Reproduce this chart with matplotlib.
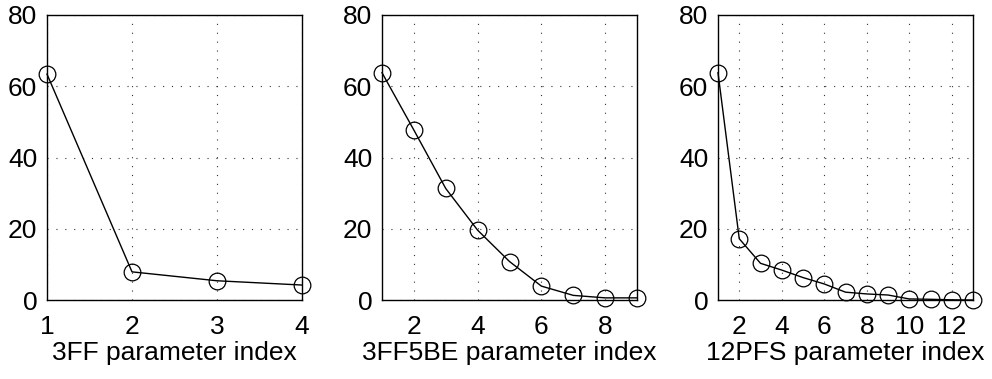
import matplotlib
matplotlib.use("Agg")
import matplotlib.pyplot as plt

plt.rcParams['font.family'] = ['Liberation Sans', 'DejaVu Sans']

vals_3ff = [63.4, 7.9, 5.4, 4.2]
vals_3ff5be = [63.8, 47.7, 31.3, 19.6, 10.8, 3.9, 1.3, 0.6, 0.6]
vals_12pfs = [63.8, 17.2, 10.3, 8.4, 6.3, 4.5, 2.2, 1.7, 1.4, 0.3, 0.2, 0.05, 0.0]

labels = ['3FF parameter index', '3FF5BE parameter index', '12PFS parameter index']
xticks = [[1, 2, 3, 4], [2, 4, 6, 8], [2, 4, 6, 8, 10, 12]]
yticks = [0, 20, 40, 60, 80]

fig = plt.figure(figsize=(9.92, 3.79), dpi=100)
lefts = [47, 382, 718]
series = [vals_3ff, vals_3ff5be, vals_12pfs]

for i, vals in enumerate(series):
    ax = fig.add_axes([lefts[i] / 992, 79 / 379, 255 / 992, 285 / 379])
    x = list(range(1, len(vals) + 1))
    ax.plot(x, vals, color='black', lw=1.0, marker='o', ms=12,
            mfc='none', mec='black', mew=0.9, clip_on=False, zorder=3)
    ax.set_xlim(1, len(vals))
    ax.set_ylim(0, 80)
    ax.set_xticks(xticks[i])
    ax.set_yticks(yticks)
    ax.grid(True, color='#333333', linestyle=(0, (1, 7)), linewidth=0.8)
    ax.tick_params(length=0, labelsize=19)
    ax.tick_params(axis='x', pad=11)
    ax.tick_params(axis='y', pad=7)
    ax.set_xlabel(labels[i], fontsize=19, labelpad=1)
    for s in ax.spines.values():
        s.set_linewidth(1.0)

fig.savefig('out.png', dpi=100)
